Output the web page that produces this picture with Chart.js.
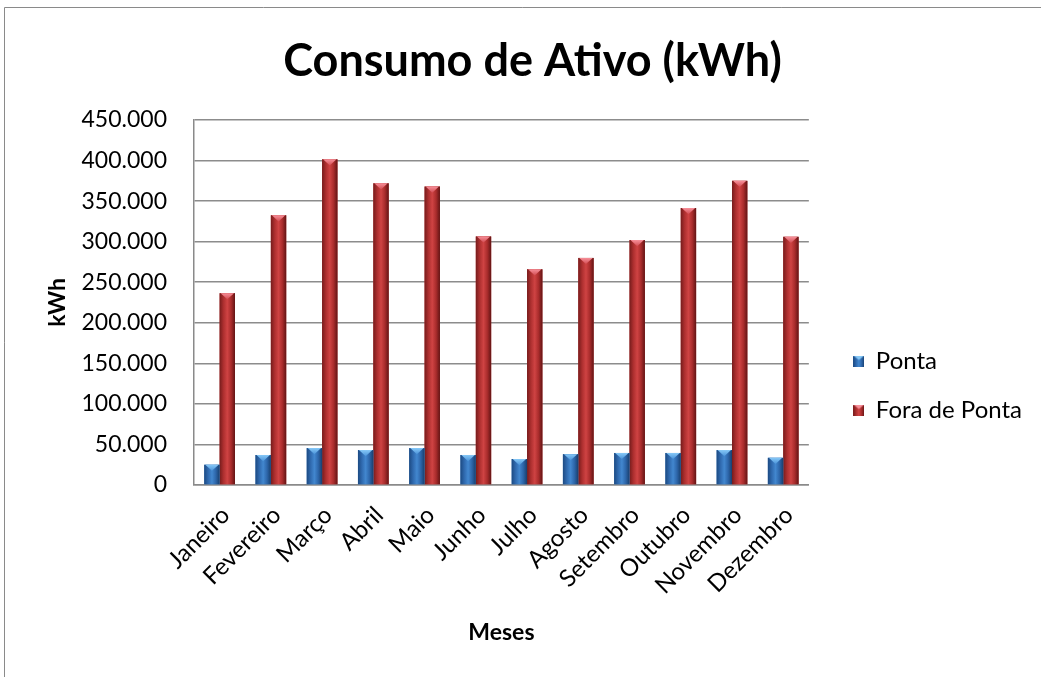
<!DOCTYPE html>
<html lang="pt">
<head>
<meta charset="utf-8">
<title>Consumo de Ativo (kWh)</title>
<script src="https://cdn.jsdelivr.net/npm/chart.js@4.4.1/dist/chart.umd.min.js"></script>
<style>
  html, body { margin: 0; padding: 0; background: #ffffff; }
  canvas { display: block; }
</style>
</head>
<body>
<canvas id="chart" width="1041" height="677"></canvas>
<script>
// Monthly active energy consumption (kWh), peak vs off-peak
const meses = ['Janeiro', 'Fevereiro', 'Março', 'Abril', 'Maio', 'Junho',
               'Julho', 'Agosto', 'Setembro', 'Outubro', 'Novembro', 'Dezembro'];
const ponta = [25000, 37000, 45500, 43000, 45500, 37000, 32000, 38000, 39500, 39500, 43000, 33500];
const foraDePonta = [236500, 332500, 401500, 372000, 368000, 306500, 266000, 280000, 302000, 341500, 375000, 306000];
const eixoY = { min: 0, max: 450000, passo: 50000 };

const FONT = 'Lato, "Open Sans", sans-serif';

// Colour ramps for the shaded columns
const tons = [
  { base: '#3a7cc4', stops: ['#1c4a82', '#2f69ae', '#4287cf', '#2d66aa', '#183f6e'], capTop: '#86c8f7', capBottom: '#4a92d8' },
  { base: '#c43a3a', stops: ['#761c1c', '#ad2f2f', '#cf4343', '#a92c2c', '#621414'], capTop: '#f7909a', capBottom: '#d24c52' }
];

// Small shaded square used as the legend marker
function marcador(t) {
  const c = document.createElement('canvas');
  c.width = 11; c.height = 11;
  const g = c.getContext('2d');
  const grad = g.createLinearGradient(0, 0, 11, 0);
  t.stops.forEach((s, i) => grad.addColorStop(i / (t.stops.length - 1), s));
  g.fillStyle = grad;
  g.fillRect(0, 0, 11, 11);
  g.beginPath(); g.moveTo(0, 0); g.lineTo(11, 0); g.lineTo(5.5, 4.5); g.closePath();
  g.fillStyle = t.capTop; g.fill();
  return c;
}

// Side gradient and top bevel painted over every column
const sombreado = {
  id: 'sombreado',
  afterDatasetDraw(chart, args) {
    const ctx = chart.ctx;
    const t = tons[args.index];
    ctx.save();
    args.meta.data.forEach(bar => {
      const p = bar.getProps(['x', 'y', 'base', 'width'], true);
      const l = p.x - p.width / 2, r = p.x + p.width / 2;
      const g = ctx.createLinearGradient(l, 0, r, 0);
      t.stops.forEach((s, i) => g.addColorStop(i / (t.stops.length - 1), s));
      ctx.fillStyle = g;
      ctx.fillRect(l, p.y, p.width, p.base - p.y);
      const h = p.width * 0.4;
      const cg = ctx.createLinearGradient(0, p.y, 0, p.y + h);
      cg.addColorStop(0, t.capTop);
      cg.addColorStop(1, t.capBottom);
      ctx.beginPath();
      ctx.moveTo(l + 1, p.y);
      ctx.lineTo(r - 1, p.y);
      ctx.lineTo(p.x, p.y + h);
      ctx.closePath();
      ctx.fillStyle = cg;
      ctx.fill();
    });
    ctx.restore();
  }
};

// White page with the outer frame line along the top and left
const moldura = {
  id: 'moldura',
  beforeDraw(chart) {
    const ctx = chart.ctx;
    ctx.save();
    ctx.fillStyle = '#ffffff';
    ctx.fillRect(0, 0, chart.width, chart.height);
    ctx.strokeStyle = '#8a8a8a';
    ctx.lineWidth = 1;
    ctx.beginPath();
    ctx.moveTo(4.5, chart.height);
    ctx.lineTo(4.5, 7.5);
    ctx.lineTo(chart.width, 7.5);
    ctx.stroke();
    ctx.restore();
  }
};

new Chart(document.getElementById('chart'), {
  type: 'bar',
  data: {
    labels: meses,
    datasets: [
      { label: 'Ponta', data: ponta, backgroundColor: tons[0].base, pointStyle: marcador(tons[0]) },
      { label: 'Fora de Ponta', data: foraDePonta, backgroundColor: tons[1].base, pointStyle: marcador(tons[1]) }
    ]
  },
  options: {
    responsive: false,
    animation: false,
    devicePixelRatio: 1,
    categoryPercentage: 0.6,
    barPercentage: 1.0,
    layout: { padding: { top: 8, left: 33, right: 9, bottom: 20 } },
    plugins: {
      title: {
        display: true,
        text: 'Consumo de Ativo (kWh)',
        color: '#000000',
        font: { family: FONT, size: 45, weight: 'bold' },
        padding: { top: 26, bottom: 32 }
      },
      legend: {
        position: 'right',
        align: 'center',
        maxWidth: 260,
        title: { display: true, text: '', font: { size: 10 }, padding: { top: 94, bottom: 0 } },
        labels: {
          usePointStyle: true,
          boxWidth: 10,
          boxHeight: 10,
          color: '#000000',
          font: { family: FONT, size: 24 },
          padding: 25
        }
      },
      tooltip: { enabled: false }
    },
    scales: {
      x: {
        grid: { display: false, drawTicks: false },
        border: { display: true, color: '#8a8a8a', width: 1.5 },
        ticks: {
          color: '#000000',
          font: { family: FONT, size: 24 },
          minRotation: 45,
          maxRotation: 45,
          padding: 16,
          labelOffset: 6
        },
        title: {
          display: true,
          text: 'Meses',
          color: '#000000',
          font: { family: FONT, size: 23, weight: 'bold' },
          padding: { top: 0, bottom: 11 }
        },
        afterFit(s) { s.height = 172; }
      },
      y: {
        min: eixoY.min,
        max: eixoY.max,
        grid: { color: '#8c8c8c', lineWidth: 1.5, drawTicks: false },
        border: { display: true, color: '#8a8a8a', width: 1.5 },
        ticks: {
          stepSize: eixoY.passo,
          color: '#000000',
          font: { family: FONT, size: 23 },
          padding: 27,
          callback: v => v.toLocaleString('pt-PT').replace(/\s/g, '.')
        },
        title: {
          display: true,
          text: 'kWh',
          color: '#000000',
          font: { family: FONT, size: 23, weight: 'bold' },
          padding: { top: 11, bottom: 0 }
        },
        afterFit(s) { s.width = 161; }
      },
      // empty strip between the plot and the legend
      margem: {
        type: 'linear',
        position: 'right',
        display: true,
        grid: { display: false, drawTicks: false },
        border: { display: false },
        ticks: { display: false },
        afterFit(s) { s.width = 20; }
      }
    }
  },
  plugins: [moldura, sombreado]
});
</script>
</body>
</html>
